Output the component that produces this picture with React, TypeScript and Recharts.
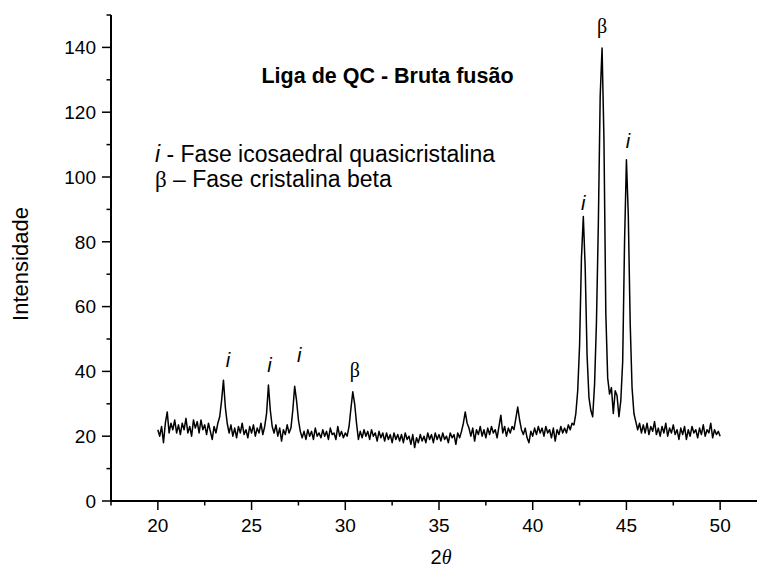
import { LineChart, Line, XAxis, YAxis, ReferenceDot } from 'recharts';

// XRD scan, 2θ from 20 to 50 in 0.1° steps (intensity)
const SCAN_START = 20;
const SCAN_STEP = 0.1;

const scan20 = [
  22, 20, 23, 18, 24, 27.5, 21, 24, 22, 25,
  21, 23.5, 20.5, 24, 22, 25.5, 21, 23, 20, 25,
  22.5, 24.5, 21, 25, 22, 23.5, 20.5, 24, 21.5, 19,
  23, 21, 24, 26, 31, 37.3, 29, 24, 21, 23.5,
  20, 22.5, 19.5, 23, 21, 24, 20.5, 22, 19.5, 23,
];
const scan25 = [
  21, 23.5, 20, 22.5, 21, 24, 20.5, 23, 27, 35.8,
  28, 23, 21, 23.5, 20, 22.5, 18.5, 22, 20.5, 23.5,
  21, 22.5, 28, 35.4, 31, 25, 21.5, 19.5, 21.5, 19,
  22, 20, 21.5, 19, 22.5, 20, 21, 19.5, 22, 20,
  21.5, 19, 22.5, 20.5, 21, 19, 23, 20, 21.5, 19.5,
];
const scan30 = [
  21, 20, 23, 28.5, 33.7, 30, 24, 19, 21.5, 19.5,
  22, 20, 21.5, 19, 22, 20, 21, 18.5, 21.5, 19.5,
  21, 18.5, 21, 19, 20.5, 18, 21, 19, 20.5, 18.5,
  20.5, 18, 21, 19, 20, 17.5, 20.5, 16.5, 19.5, 18,
  20.5, 18.5, 20, 18, 21, 19, 20.5, 18, 21, 19,
];
const scan35 = [
  20.5, 18.5, 21, 19, 20, 18, 21, 19.5, 20.5, 17.5,
  21, 19.5, 21.5, 24, 27.5, 24, 22.5, 20, 22.5, 18.5,
  22, 20.5, 23, 20, 22, 19.5, 22.5, 20.5, 23, 21,
  22, 19.5, 23, 26.5, 21, 23, 20, 22.5, 21, 23,
  22, 25.5, 29, 25, 22, 20.5, 22.5, 19.5, 18, 21.5,
];
const scan40 = [
  20, 22.5, 20.5, 23, 21, 22.5, 20, 23, 21, 22,
  19.5, 22.5, 18.5, 22, 20.5, 23, 21, 22.5, 21, 23.5,
  22, 24, 23.5, 27, 34, 48, 75, 87.8, 72, 45,
  32, 28, 26, 36, 55, 85, 125, 139.8, 112, 58,
  38, 33, 35, 27, 34, 32.5, 26, 31, 43, 80,
];
const scan45 = [
  105.3, 88, 55, 35, 27, 24.5, 22, 24, 21, 23.5,
  21, 24, 20.5, 23, 21.5, 24.5, 20.5, 22.5, 20, 23,
  21, 24, 20, 22.5, 21, 23.5, 20.5, 22, 19, 22.5,
  20.5, 23, 19, 22, 20, 23, 21, 22, 19.5, 22.5,
  20.5, 23.5, 20, 22, 21, 24, 19.5, 22, 20.5, 21.5,
  20,
];

const intensity = [...scan20, ...scan25, ...scan30, ...scan35, ...scan40, ...scan45];
const data = intensity.map((y, i) => ({ x: +(SCAN_START + i * SCAN_STEP).toFixed(2), y }));

// indexed peaks
const peakAngles = [23.5, 25.9, 27.3, 30.4, 42.7, 43.7, 45.0];
const peakHeights = [37.3, 35.8, 35.4, 33.7, 87.8, 139.8, 105.3];
const peakPhases = ['i', 'i', 'i', 'β', 'i', 'β', 'i'];
// label nudges in px (dx, up)
const labelNudge = [[4.5, 13], [1, 13], [4.5, 24], [2, 15], [0, 7], [0, 15], [1.5, 12]];

const xTicks = [17.5, 20, 22.5, 25, 27.5, 30, 32.5, 35, 37.5, 40, 42.5, 45, 47.5, 50, 52.5];
const yTicks = [0, 10, 20, 30, 40, 50, 60, 70, 80, 90, 100, 110, 120, 130, 140, 150];

const SANS = '"Liberation Sans", Arial, Helvetica, sans-serif';
const SERIF = '"Liberation Serif", "Times New Roman", serif';

function XTick(props: any) {
  const { x, y, payload } = props;
  const major = payload.value % 5 === 0;
  return (
    <g>
      <line x1={x} x2={x} y1={y} y2={y + (major ? 9 : 4.5)} stroke="#000" strokeWidth={1.5} />
      {major && (
        <text x={x} y={y + 31} textAnchor="middle" fontSize={19} fontFamily={SANS} fill="#000">
          {payload.value}
        </text>
      )}
    </g>
  );
}

function YTick(props: any) {
  const { x, y, payload } = props;
  const major = payload.value % 20 === 0;
  return (
    <g>
      <line x1={x} x2={x - (major ? 9 : 4.5)} y1={y} y2={y} stroke="#000" strokeWidth={1.5} />
      {major && (
        <text x={x - 15} y={y + 6.8} textAnchor="end" fontSize={19} fontFamily={SANS} fill="#000">
          {payload.value}
        </text>
      )}
    </g>
  );
}

function PeakLabel(props: any) {
  const { cx, cy, idx } = props;
  const phase = peakPhases[idx];
  const [dx, up] = labelNudge[idx];
  const isBeta = phase === 'β';
  return (
    <text
      x={cx + dx}
      y={cy - up}
      textAnchor="middle"
      fontSize={20}
      fontFamily={isBeta ? SERIF : SANS}
      fontStyle={isBeta ? 'normal' : 'italic'}
      fill="#000"
    >
      {phase}
    </text>
  );
}

export default function App() {
  return (
    <div
      style={{
        position: 'fixed',
        left: 0,
        top: 0,
        width: 757,
        height: 569,
        overflow: 'hidden',
        background: '#fff',
      }}
    >
      <LineChart width={800} height={569} data={data} margin={{ top: 15, right: 33, bottom: 0, left: 0 }}>
        <XAxis
          type="number"
          dataKey="x"
          domain={[17.5, 52.5]}
          ticks={xTicks}
          interval={0}
          tickSize={0}
          tickMargin={0}
          tickLine={false}
          tick={<XTick />}
          height={68}
          axisLine={{ stroke: '#000', strokeWidth: 2 }}
        />
        <YAxis
          type="number"
          domain={[0, 150]}
          ticks={yTicks}
          interval={0}
          width={111}
          tickSize={0}
          tickMargin={0}
          tickLine={false}
          tick={<YTick />}
          axisLine={{ stroke: '#000', strokeWidth: 2 }}
        />
        <Line
          type="linear"
          dataKey="y"
          stroke="#000"
          strokeWidth={1.5}
          strokeLinejoin="round"
          dot={false}
          isAnimationActive={false}
        />
        {peakAngles.map((a, i) => (
          <ReferenceDot
            key={`pk-${i}`}
            x={a}
            y={peakHeights[i]}
            r={0}
            shape={(p: any) => <PeakLabel {...p} idx={i} />}
          />
        ))}
      </LineChart>
      <svg
        width={757}
        height={569}
        style={{ position: 'absolute', left: 0, top: 0, pointerEvents: 'none' }}
      >
        <text x={387.5} y={83} textAnchor="middle" fontSize={21.5} fontWeight="bold" fontFamily={SANS} fill="#000">
          Liga de QC - Bruta fusão
        </text>
        <text x={155} y={162} fontSize={23} fontFamily={SANS} fill="#000">
          <tspan fontStyle="italic">i</tspan> - Fase icosaedral quasicristalina
        </text>
        <text x={155} y={187} fontSize={23} fontFamily={SANS} fill="#000">
          <tspan fontFamily={SERIF}>β</tspan> – Fase cristalina beta
        </text>
        <text
          x={28}
          y={264}
          textAnchor="middle"
          fontSize={22}
          fontFamily={SANS}
          fill="#000"
          transform="rotate(-90, 28, 264)"
        >
          Intensidade
        </text>
        <text x={441} y={564} textAnchor="middle" fontSize={20} fontFamily={SANS} fill="#000">
          2<tspan fontFamily={SERIF} fontStyle="italic">θ</tspan>
        </text>
      </svg>
    </div>
  );
}
